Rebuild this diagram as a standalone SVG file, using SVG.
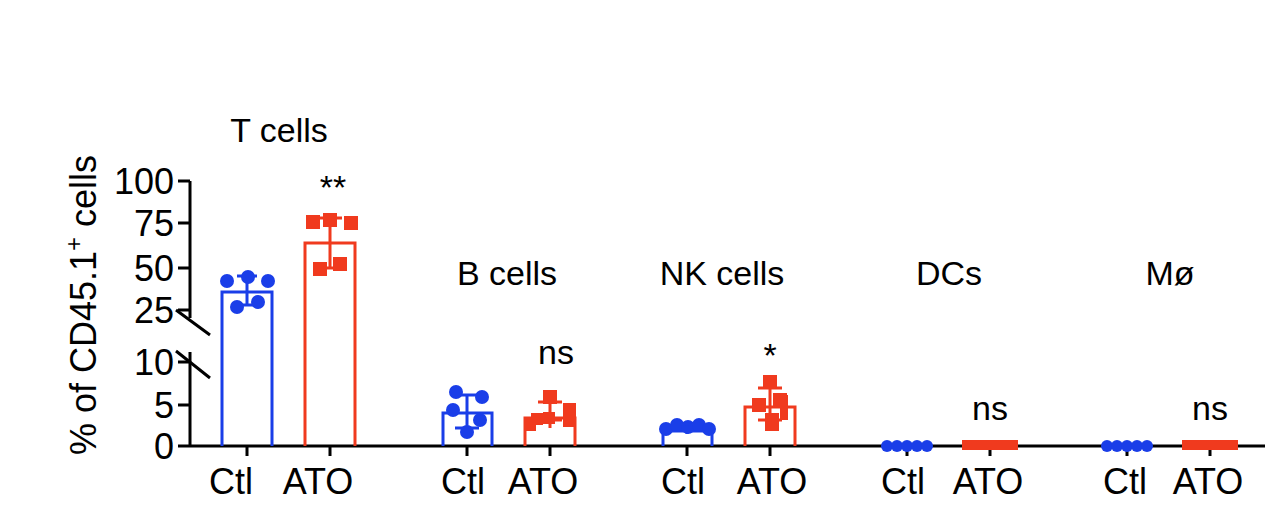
<svg xmlns="http://www.w3.org/2000/svg" width="1268" height="523" viewBox="0 0 1268 523">
<style>
text{font-family:"Liberation Sans",Arial,sans-serif;fill:#000}
.t{font-size:34px}
.k{font-size:36px}
.ax{stroke:#000;stroke-width:3;fill:none}
.bb{stroke:#1a3ee8;stroke-width:3;fill:none}
.rb{stroke:#f03a1e;stroke-width:3;fill:none}
.bd{fill:#1a3ee8}
.rd{fill:#f03a1e}
</style>
<rect width="1268" height="523" fill="#fff"/>
<g id="axes">
<path class="ax" d="M190 181V318M190 352V446M178 446H1265M178 181H190M178 223H190M178 268H190M178 310H190M178 362H190M178 405H190M178 446H190"/>
<path class="ax" d="M176 310L210 335M176 351L210 378"/>
<path class="ax" d="M247 446V456M330 446V456M467 446V456M550 446V456M687 446V456M770 446V456M907 446V456M990 446V456M1127 446V456M1210 446V456"/>
<g class="k" text-anchor="end">
<text x="174" y="194">100</text><text x="174" y="236">75</text><text x="174" y="281">50</text><text x="174" y="323">25</text><text x="174" y="375">10</text><text x="174" y="418">5</text><text x="174" y="459">0</text>
</g>
<text class="k" transform="translate(96,305) rotate(-90)" text-anchor="middle">% of CD45.1<tspan font-size="24" dy="-14">+</tspan><tspan dy="14"> cells</tspan></text>
<g class="k" text-anchor="middle">
<text x="231" y="494">Ctl</text><text x="318" y="494">ATO</text>
<text x="463" y="494">Ctl</text><text x="543" y="494">ATO</text>
<text x="683" y="494">Ctl</text><text x="772" y="494">ATO</text>
<text x="903" y="494">Ctl</text><text x="988" y="494">ATO</text>
<text x="1125" y="494">Ctl</text><text x="1208" y="494">ATO</text>
</g>
</g>
<g id="titles" class="t" text-anchor="middle">
<text x="279" y="142">T cells</text>
<text x="507" y="285">B cells</text>
<text x="722" y="285">NK cells</text>
<text x="949" y="285">DCs</text>
<text x="1170" y="285">Mø</text>
<text x="333" y="199">**</text>
<text x="556" y="364">ns</text>
<text x="770" y="367">*</text>
<text x="990" y="420">ns</text>
<text x="1210" y="420">ns</text>
</g>
<g id="tcells">
<path class="bb" d="M222 446V292H272V446"/>
<path class="rb" d="M305 446V243H355V446"/>
<g class="bd"><circle cx="227" cy="281" r="7"/><circle cx="248" cy="277" r="7"/><circle cx="268" cy="281" r="7"/><circle cx="237" cy="307" r="7"/><circle cx="258" cy="302" r="7"/></g>
<path stroke="#1a3ee8" stroke-width="3" d="M247 276V305M237 276H257M237 305H257"/>
<g class="rd"><rect x="306" y="215" width="14" height="14"/><rect x="323" y="213" width="14" height="14"/><rect x="344" y="216" width="14" height="14"/><rect x="313" y="262" width="14" height="14"/><rect x="333" y="257" width="14" height="14"/></g>
<path stroke="#f03a1e" stroke-width="3" d="M330 218V268M318 218H342M318 268H342"/>
</g>
<g id="bcells">
<path class="bb" d="M443 446V413H492V446"/>
<path class="rb" d="M525 446V418H575V446"/>
<g class="bd"><circle cx="456" cy="392" r="7"/><circle cx="482" cy="397" r="7"/><circle cx="453" cy="410" r="7"/><circle cx="480" cy="420" r="7"/><circle cx="467" cy="432" r="7"/></g>
<path stroke="#1a3ee8" stroke-width="3" d="M467 395V428M455 395H479M455 428H479"/>
<g class="rd"><rect x="524" y="417" width="12" height="14"/><rect x="543" y="390" width="14" height="14"/><rect x="543" y="412" width="12" height="12"/><rect x="563" y="403" width="13" height="24"/><rect x="531" y="413" width="12" height="12"/></g>
<path stroke="#f03a1e" stroke-width="3" d="M550 402V428M538 402H562M538 420H562"/>
</g>
<g id="nkcells">
<path class="bb" d="M663 446V431H712V446"/>
<path class="rb" d="M745 446V407H795V446"/>
<g class="bd"><circle cx="666" cy="429" r="7"/><circle cx="677" cy="425" r="7"/><circle cx="688" cy="427" r="7"/><circle cx="699" cy="425" r="7"/><circle cx="709" cy="429" r="7"/></g>
<path stroke="#1a3ee8" stroke-width="3" d="M687 424V434M677 424H697"/>
<g class="rd"><rect x="763" y="375" width="14" height="14"/><rect x="752" y="398" width="14" height="14"/><rect x="773" y="393" width="14" height="14"/><rect x="765" y="413" width="14" height="18"/><rect x="780" y="395" width="8" height="25"/></g>
<path stroke="#f03a1e" stroke-width="3" d="M770 388V422M758 388H782M758 420H782"/>
</g>
<g id="dcs">
<g class="bd"><circle cx="887" cy="446" r="6"/><circle cx="897" cy="446" r="6"/><circle cx="907" cy="446" r="6"/><circle cx="917" cy="446" r="6"/><circle cx="927" cy="446" r="6"/></g>
<rect class="rd" x="962" y="440" width="56" height="10"/>
</g>
<g id="macro">
<g class="bd"><circle cx="1107" cy="446" r="6"/><circle cx="1117" cy="446" r="6"/><circle cx="1127" cy="446" r="6"/><circle cx="1137" cy="446" r="6"/><circle cx="1147" cy="446" r="6"/></g>
<rect class="rd" x="1182" y="440" width="56" height="10"/>
</g>
</svg>
